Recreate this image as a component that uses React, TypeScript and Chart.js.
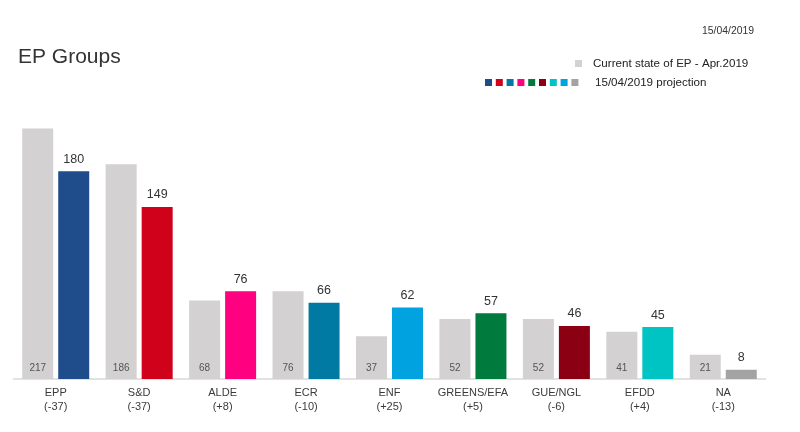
import React, { useEffect, useRef } from "react";
import { Chart, registerables } from "chart.js";

Chart.register(...registerables);

const groups = ["EPP", "S&D", "ALDE", "ECR", "ENF", "GREENS/EFA", "GUE/NGL", "EFDD", "NA"];
const changes = ["(-37)", "(-37)", "(+8)", "(-10)", "(+25)", "(+5)", "(-6)", "(+4)", "(-13)"];
const currentSeats = [217, 186, 68, 76, 37, 52, 52, 41, 21];
const projectionSeats = [180, 149, 76, 66, 62, 57, 46, 45, 8];
const projectionColors = ["#1f4d8c", "#d0021b", "#ff0080", "#007aa2", "#00a3e0", "#007a3d", "#8b0012", "#00c4c4", "#a3a3a3"];
const legendSwatches = ["#1f4d8c", "#d0021b", "#007aa2", "#ff0080", "#007a3d", "#8b0012", "#00c4c4", "#00a3e0", "#a3a3a3"];
const titleText = "EP Groups";
const dateText = "15/04/2019";
const currentLabel = "Current state of EP - Apr.2019";
const projectionLabel = "15/04/2019 projection";

const FONT = "'Liberation Sans', Arial, Helvetica, sans-serif";

const decorPlugin = {
  id: "decor",
  afterDatasetsDraw(chart: any) {
    const ctx = chart.ctx;
    ctx.save();
    const m0 = chart.getDatasetMeta(0);
    ctx.font = `10px ${FONT}`;
    ctx.fillStyle = "#555";
    ctx.textAlign = "center";
    ctx.textBaseline = "middle";
    m0.data.forEach((el: any, i: number) => {
      ctx.fillText(String(currentSeats[i]), el.x, el.base - 11);
    });
    const m1 = chart.getDatasetMeta(1);
    ctx.font = `12.5px ${FONT}`;
    ctx.fillStyle = "#333";
    m1.data.forEach((el: any, i: number) => {
      ctx.fillText(String(projectionSeats[i]), el.x, el.y - 12);
    });
    ctx.restore();
  },
  afterDraw(chart: any) {
    const ctx = chart.ctx;
    ctx.save();
    ctx.textBaseline = "alphabetic";
    ctx.textAlign = "left";
    ctx.fillStyle = "#333";
    ctx.font = `21px ${FONT}`;
    ctx.fillText(titleText, 18, 63);
    ctx.font = `10.4px ${FONT}`;
    ctx.fillStyle = "#333";
    ctx.fillText(dateText, 702, 34);
    ctx.textBaseline = "middle";
    ctx.font = `11.6px ${FONT}`;
    ctx.fillStyle = "#d3d1d1";
    ctx.fillRect(575, 60, 7, 7);
    ctx.fillStyle = "#222";
    ctx.fillText(currentLabel, 593, 64);
    legendSwatches.forEach((c, i) => {
      ctx.fillStyle = c;
      ctx.fillRect(485 + i * 10.8, 79, 7, 7);
    });
    ctx.fillStyle = "#222";
    ctx.fillText(projectionLabel, 595, 83);
    ctx.restore();
  },
};

export default function App() {
  const ref = useRef<HTMLCanvasElement | null>(null);
  useEffect(() => {
    if (!ref.current) return;
    const chart = new Chart(ref.current, {
      type: "bar",
      data: {
        labels: groups.map((g, i) => [g, changes[i]]),
        datasets: [
          {
            label: currentLabel,
            data: currentSeats,
            backgroundColor: "#d3d1d1",
            categoryPercentage: 0.863,
            barPercentage: 0.861,
          },
          {
            label: projectionLabel,
            data: projectionSeats,
            backgroundColor: projectionColors,
            categoryPercentage: 0.863,
            barPercentage: 0.861,
          },
        ],
      },
      options: {
        responsive: false,
        animation: false,
        layout: { padding: { top: 102, left: 14, right: 35, bottom: 0 } },
        plugins: {
          legend: { display: false },
          title: { display: false },
          tooltip: { enabled: false },
        },
        scales: {
          x: {
            afterFit(scale: any) {
              scale.height = 53;
            },
            grid: { display: false, drawTicks: false },
            border: { display: true, color: "#e2e2e2", width: 2 },
            ticks: {
              padding: 7.2,
              color: "#3a3a3a",
              font: { size: 11, family: FONT, lineHeight: 1.25 },
              maxRotation: 0,
              autoSkip: false,
            },
          },
          y: {
            display: false,
            min: 0,
            max: 240,
          },
        },
      },
      plugins: [decorPlugin],
    });
    return () => chart.destroy();
  }, []);
  return (
    <div style={{ position: "fixed", left: 0, top: 0, width: 800, height: 432, background: "#fff" }}>
      <canvas ref={ref} width={800} height={432} />
    </div>
  );
}
